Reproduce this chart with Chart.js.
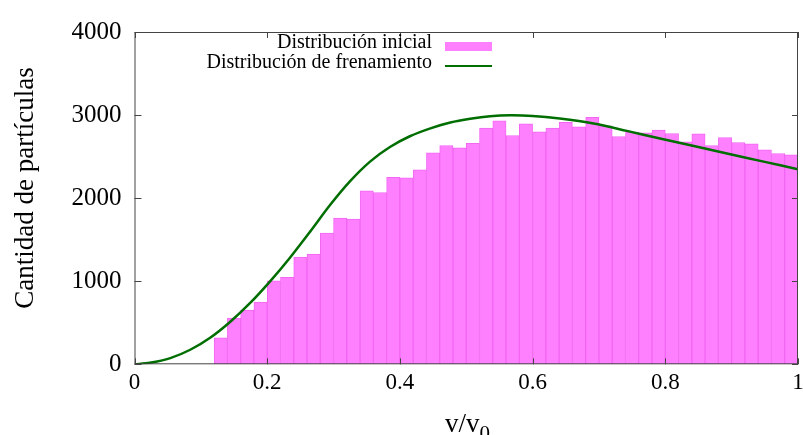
<!DOCTYPE html>
<html>
<head>
<meta charset="utf-8">
<script src="https://cdn.jsdelivr.net/npm/chart.js@4.4.0/dist/chart.umd.min.js"></script>
<style>
  html, body { margin: 0; padding: 0; background: #fff; }
  #wrap { width: 803px; height: 435px; }
</style>
</head>
<body>
<div id="wrap"><canvas id="chart" width="803" height="435"></canvas></div>
<script>
// histogram bins (centres of 0.02 wide bins) and counts
const binCenters = [0.13, 0.15, 0.17, 0.19, 0.21, 0.23, 0.25, 0.27, 0.29, 0.31, 0.33,
  0.35, 0.37, 0.39, 0.41, 0.43, 0.45, 0.47, 0.49, 0.51, 0.53, 0.55, 0.57, 0.59, 0.61,
  0.63, 0.65, 0.67, 0.69, 0.71, 0.73, 0.75, 0.77, 0.79, 0.81, 0.83, 0.85, 0.87, 0.89,
  0.91, 0.93, 0.95, 0.97, 0.99];
const counts = [320, 557, 653, 749, 1005, 1046, 1290, 1326, 1579, 1759, 1747,
  2088, 2068, 2252, 2244, 2341, 2545, 2634, 2605, 2661, 2842, 2930, 2754, 2894, 2797,
  2842, 2914, 2858, 2974, 2870, 2742, 2794, 2786, 2818, 2778, 2677, 2774, 2634, 2730,
  2670, 2653, 2581, 2537, 2521];

// braking distribution curve
const curveV = [0, 0.023, 0.054, 0.084, 0.114, 0.144, 0.174, 0.204, 0.234, 0.265, 0.295,
  0.325, 0.355, 0.385, 0.415, 0.446, 0.476, 0.506, 0.536, 0.566, 0.6, 0.641, 0.692,
  0.742, 0.792, 0.843, 0.893, 0.95, 1.0];
const curveN = [0, 18, 75, 175, 320, 510, 735, 995, 1280, 1600, 1920,
  2205, 2440, 2615, 2745, 2840, 2910, 2955, 2986, 2998, 2990, 2958, 2898,
  2810, 2718, 2628, 2537, 2437, 2349];

const xTicks = [0, 0.2, 0.4, 0.6, 0.8, 1];
const yTicks = [0, 1000, 2000, 3000, 4000];

const legendLabels = ['Distribución inicial', 'Distribución de frenamiento'];
const xTitle = 'v/v';
const xTitleSub = '0';
const yTitle = 'Cantidad de partículas';

const serif = '"Liberation Serif", "DejaVu Serif", serif';

const framePlugin = {
  id: 'frame',
  afterDatasetsDraw(chart) {
    const { ctx, chartArea: a, scales } = chart;
    ctx.save();
    ctx.strokeStyle = '#444';
    ctx.lineWidth = 1;
    ctx.strokeRect(a.left + 0.5, a.top + 0.5, a.right - a.left - 1, a.bottom - a.top - 1);
    ctx.beginPath();
    yTicks.forEach(t => {
      const y = Math.round(scales.y.getPixelForValue(t)) + 0.5;
      ctx.moveTo(a.left, y); ctx.lineTo(a.left + 7, y);
      ctx.moveTo(a.right, y); ctx.lineTo(a.right - 6, y);
    });
    xTicks.forEach(t => {
      const x = Math.round(scales.x.getPixelForValue(t)) + 0.5;
      ctx.moveTo(x, a.top); ctx.lineTo(x, a.top + 6);
      ctx.moveTo(x, a.bottom); ctx.lineTo(x, a.bottom - 6);
    });
    ctx.stroke();
    ctx.restore();
  },
  afterDraw(chart) {
    const { ctx } = chart;
    ctx.save();
    ctx.fillStyle = '#000';
    // legend
    ctx.font = '20px ' + serif;
    ctx.textAlign = 'right';
    ctx.textBaseline = 'alphabetic';
    ctx.fillText(legendLabels[0], 432, 48);
    ctx.fillText(legendLabels[1], 432, 68);
    ctx.fillStyle = '#ff80ff';
    ctx.fillRect(445, 42, 47, 9);
    ctx.strokeStyle = '#006e00';
    ctx.lineWidth = 2;
    ctx.beginPath();
    ctx.moveTo(445, 66); ctx.lineTo(492, 66);
    ctx.stroke();

    // axis titles
    ctx.fillStyle = '#000';
    ctx.font = '27px ' + serif;
    ctx.textAlign = 'left';
    ctx.fillText(xTitle, 445, 432);
    const w = ctx.measureText(xTitle).width;
    ctx.font = '21px ' + serif;
    ctx.fillText(xTitleSub, 445 + w, 440);

    ctx.translate(33, 188);
    ctx.rotate(-Math.PI / 2);
    ctx.font = '27px ' + serif;
    ctx.textAlign = 'center';
    ctx.fillText(yTitle, 0, 0);
    ctx.restore();
  }
};

new Chart(document.getElementById('chart'), {
  data: {
    datasets: [
      {
        type: 'line',
        label: legendLabels[1],
        data: curveV.map((v, i) => ({ x: v, y: curveN[i] })),
        borderColor: '#006e00',
        borderWidth: 2.5,
        pointRadius: 0,
        tension: 0.3,
        fill: false,
        order: 0
      },
      {
        type: 'bar',
        label: legendLabels[0],
        data: binCenters.map((v, i) => ({ x: v, y: counts[i] })),
        backgroundColor: '#ff80ff',
        borderColor: '#f266f2',
        borderWidth: 1,
        borderSkipped: 'start',
        barPercentage: 1,
        categoryPercentage: 1,
        order: 1
      }
    ]
  },
  options: {
    responsive: false,
    animation: false,
    layout: { padding: { top: 32, right: 5, left: 0, bottom: 0 } },
    plugins: {
      legend: { display: false },
      tooltip: { enabled: false }
    },
    scales: {
      x: {
        type: 'linear',
        min: 0,
        max: 1,
        offset: false,
        grid: { display: false, drawTicks: false },
        border: { display: false },
        afterBuildTicks: (s) => { s.ticks = xTicks.map(v => ({ value: v })); },
        afterFit: (s) => {
          s.height = 70.7;
          s.paddingLeft = 0;
          s.paddingRight = 0;
        },
        ticks: {
          color: '#000',
          padding: 5,
          maxRotation: 0,
          font: { family: serif, size: 23 },
          callback: (v) => String(v)
        }
      },
      y: {
        min: 0,
        max: 4000,
        grid: { display: false, drawTicks: false },
        border: { display: false },
        afterBuildTicks: (s) => { s.ticks = yTicks.map(v => ({ value: v })); },
        afterFit: (s) => { s.width = 134.5; },
        ticks: {
          color: '#000',
          padding: 13,
          font: { family: serif, size: 25 },
          callback: (v) => String(v)
        }
      }
    }
  },
  plugins: [framePlugin]
});
</script>
</body>
</html>
